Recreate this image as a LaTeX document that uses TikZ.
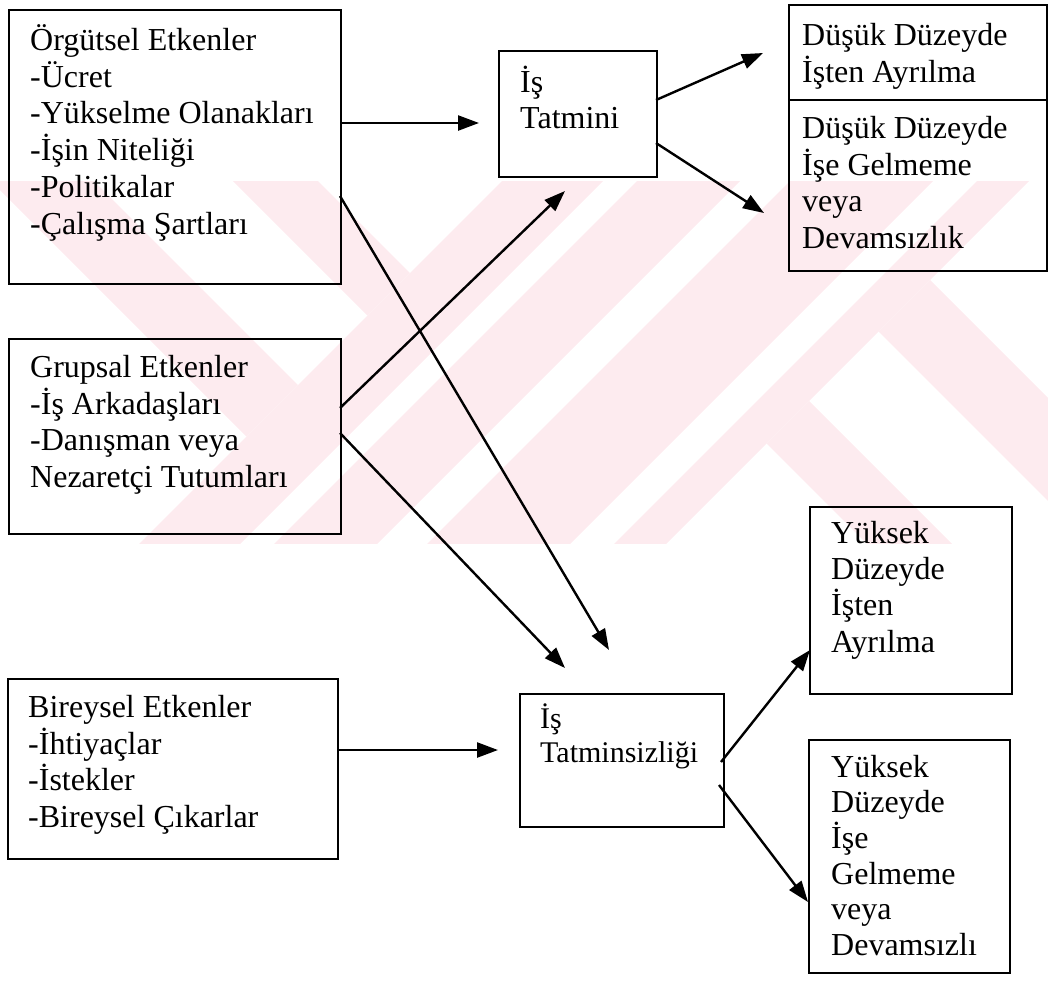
\documentclass[tikz,border=0pt]{standalone}
\usepackage{fontspec}
\setmainfont{Liberation Serif}
\usetikzlibrary{arrows.meta}
\definecolor{wm}{RGB}{253,235,239}
\begin{document}
\begin{tikzpicture}[x=1pt,y=-1pt,
  box/.style={draw,line width=2.4pt,inner sep=0pt,anchor=north west},
  txt/.style={anchor=north west,inner sep=0pt,align=left,font=\fontsize{32}{36.8}\selectfont},
  conn/.style={line width=2.4pt,-{Triangle[length=21pt,width=15pt]}}]
\useasboundingbox (0,0) rectangle (1048,997);
% watermark
\begin{scope}
\clip (0,181) rectangle (1048,543);
\fill[wm] (583,100) -- (684,100) -- (134,650) -- (33,650) -- cycle;
\fill[wm] (718,100) -- (821,100) -- (271,650) -- (168,650) -- cycle;
\fill[wm] (871,100) -- (1014,100) -- (464,650) -- (321,650) -- cycle;
\fill[wm] (1058,100) -- (1110,100) -- (560,650) -- (508,650) -- cycle;
\fill[wm] (152,100) -- (237,100) -- (410,273) -- (367.5,315.5) -- cycle;
\fill[wm] (-90,100) -- (13,100) -- (298,385) -- (246.5,436.5) -- cycle;
\fill[wm] (766.5,443.5) -- (809,401) -- (1058,650) -- (973,650) -- cycle;
\fill[wm] (878.5,331.5) -- (930,280) -- (1300,650) -- (1197,650) -- cycle;
\end{scope}
% boxes
\node[box,minimum width=332pt,minimum height=274pt] (org) at (8,9) {};
\node[box,minimum width=158pt,minimum height=126pt] (tat) at (498,50) {};
\node[box,minimum width=258pt,minimum height=95pt] (dus1) at (788,4) {};
\node[box,minimum width=258pt,minimum height=171pt] (dus2) at (788,99) {};
\node[box,minimum width=332pt,minimum height=195pt] (grp) at (8,338) {};
\node[box,minimum width=204pt,minimum height=133pt] (tsz) at (519,693) {};
\node[box,minimum width=330pt,minimum height=180pt] (bir) at (7,678) {};
\node[box,minimum width=202pt,minimum height=187pt] (yis) at (809,506) {};
\node[box,minimum width=201pt,minimum height=233pt] (yig) at (808,739) {};
% texts
\node[txt] (orgt) at (30,20) {\rule{0pt}{30pt}Örgütsel Etkenler\\-Ücret\\-Yükselme Olanakları\\-İşin Niteliği\\-Politikalar\\-Çalışma Şartları};
\node[txt,font=\fontsize{32}{36}\selectfont] (tatt) at (520,62) {\rule{0pt}{30pt}İş\\Tatmini};
\node[txt] (dus1t) at (802,15) {\rule{0pt}{30pt}Düşük Düzeyde\\İşten Ayrılma};
\node[txt] (dus2t) at (802,108) {\rule{0pt}{30pt}Düşük Düzeyde\\İşe Gelmeme\\veya\\Devamsızlık};
\node[txt] (grpt) at (30,347) {\rule{0pt}{30pt}Grupsal Etkenler\\-İş Arkadaşları\\-Danışman veya\\Nezaretçi Tutumları};
\node[txt,font=\fontsize{30}{34}\selectfont] (tszt) at (540,698) {\rule{0pt}{30pt}İş\\Tatminsizliği};
\node[txt] (birt) at (28,687) {\rule{0pt}{30pt}Bireysel Etkenler\\-İhtiyaçlar\\-İstekler\\-Bireysel Çıkarlar};
\node[txt,font=\fontsize{32}{36.3}\selectfont] (yist) at (831,513) {\rule{0pt}{30pt}Yüksek\\Düzeyde\\İşten\\Ayrılma};
\node[txt,font=\fontsize{32}{35.6}\selectfont] (yigt) at (831,747) {\rule{0pt}{30pt}Yüksek\\Düzeyde\\İşe\\Gelmeme\\veya\\Devamsızlı};
% connector end points
\coordinate (a1) at (340,123); \coordinate (b1) at (479,123);
\coordinate (a2) at (340,196); \coordinate (b2) at (609,650);
\coordinate (a3) at (340,408); \coordinate (b3) at (565,191);
\coordinate (a4) at (340,433); \coordinate (b4) at (565,668);
\coordinate (a5) at (337,750); \coordinate (b5) at (498,750);
\coordinate (a6) at (656,100); \coordinate (b6) at (763,53);
\coordinate (a7) at (656,143); \coordinate (b7) at (764,213);
\coordinate (a8) at (721,762); \coordinate (b8) at (810,650);
\coordinate (a9) at (719,785); \coordinate (b9) at (808,902);
\draw[conn] (a1) -- (b1);
\draw[conn] (a2) -- (b2);
\draw[conn] (a3) -- (b3);
\draw[conn] (a4) -- (b4);
\draw[conn] (a5) -- (b5);
\draw[conn] (a6) -- (b6);
\draw[conn] (a7) -- (b7);
\draw[conn] (a8) -- (b8);
\draw[conn] (a9) -- (b9);
\end{tikzpicture}
\end{document}
